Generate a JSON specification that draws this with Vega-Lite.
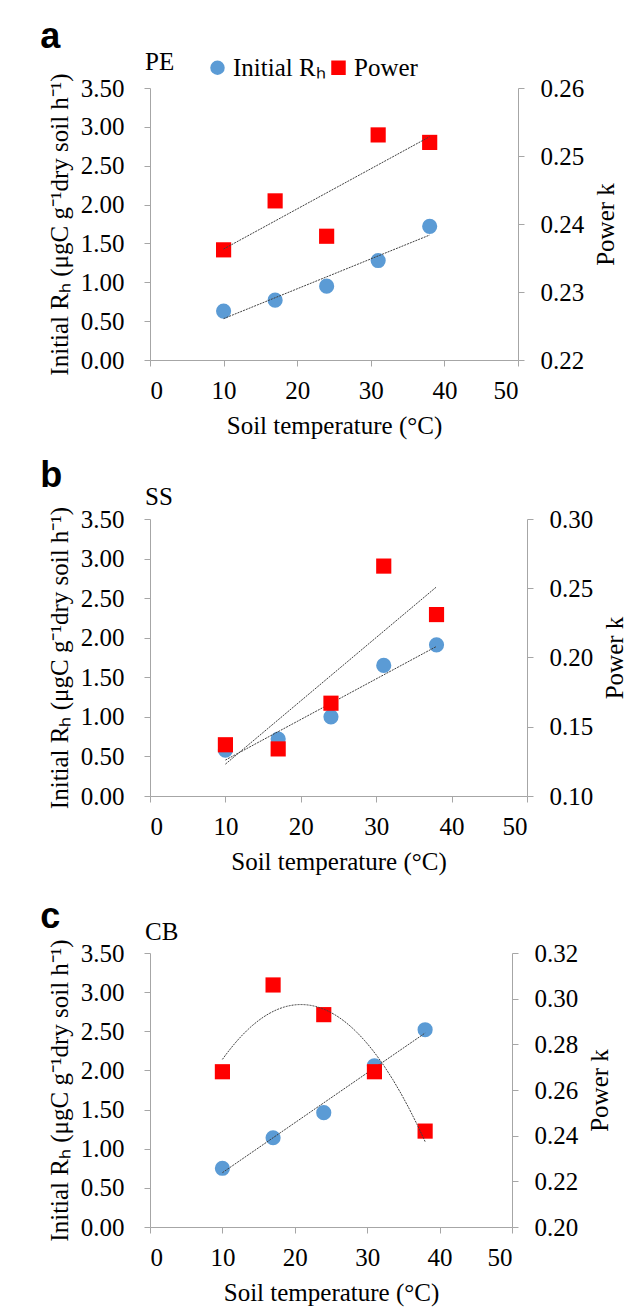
{
  "$schema": "https://vega.github.io/schema/vega-lite/v6.json",
  "padding": {"left": 40, "top": 19, "right": 5, "bottom": 2},
  "background": "white",
  "datasets": {
    "pts": [
      {"panel": "a", "temp": 10, "series": "Initial Rₕ", "value": 0.63},
      {"panel": "a", "temp": 17, "series": "Initial Rₕ", "value": 0.77},
      {"panel": "a", "temp": 24, "series": "Initial Rₕ", "value": 0.95},
      {"panel": "a", "temp": 31, "series": "Initial Rₕ", "value": 1.28},
      {"panel": "a", "temp": 38, "series": "Initial Rₕ", "value": 1.72},
      {"panel": "a", "temp": 10, "series": "Power", "value": 0.2362},
      {"panel": "a", "temp": 17, "series": "Power", "value": 0.2434},
      {"panel": "a", "temp": 24, "series": "Power", "value": 0.2382},
      {"panel": "a", "temp": 31, "series": "Power", "value": 0.2531},
      {"panel": "a", "temp": 38, "series": "Power", "value": 0.2520},
      {"panel": "b", "temp": 10, "series": "Initial Rₕ", "value": 0.58},
      {"panel": "b", "temp": 17, "series": "Initial Rₕ", "value": 0.72},
      {"panel": "b", "temp": 24, "series": "Initial Rₕ", "value": 1.00},
      {"panel": "b", "temp": 31, "series": "Initial Rₕ", "value": 1.65},
      {"panel": "b", "temp": 38, "series": "Initial Rₕ", "value": 1.91},
      {"panel": "b", "temp": 10, "series": "Power", "value": 0.137},
      {"panel": "b", "temp": 17, "series": "Power", "value": 0.134},
      {"panel": "b", "temp": 24, "series": "Power", "value": 0.167},
      {"panel": "b", "temp": 31, "series": "Power", "value": 0.266},
      {"panel": "b", "temp": 38, "series": "Power", "value": 0.231},
      {"panel": "c", "temp": 10, "series": "Initial Rₕ", "value": 0.75},
      {"panel": "c", "temp": 17, "series": "Initial Rₕ", "value": 1.14},
      {"panel": "c", "temp": 24, "series": "Initial Rₕ", "value": 1.46},
      {"panel": "c", "temp": 31, "series": "Initial Rₕ", "value": 2.06},
      {"panel": "c", "temp": 38, "series": "Initial Rₕ", "value": 2.52},
      {"panel": "c", "temp": 10, "series": "Power", "value": 0.268},
      {"panel": "c", "temp": 17, "series": "Power", "value": 0.306},
      {"panel": "c", "temp": 24, "series": "Power", "value": 0.293},
      {"panel": "c", "temp": 31, "series": "Power", "value": 0.268},
      {"panel": "c", "temp": 38, "series": "Power", "value": 0.242}
    ]
  },
  "data": {"name": "pts"},
  "spacing": 24,
  "resolve": {"scale": {"color": "independent", "shape": "independent"}},
  "vconcat": [
    {
      "spacing": 20,
      "resolve": {"scale": {"color": "independent", "shape": "independent"}},
      "vconcat": [
        {
          "title": {"text": "a", "anchor": "start", "frame": "bounds", "font": "Liberation Sans", "fontSize": 36, "fontWeight": "bold", "color": "#000", "dx": -7, "offset": -6},
          "resolve": {"scale": {"color": "independent", "shape": "independent"}},
          "vconcat": [
            {
              "width": 368,
              "height": 272,
              "title": {"text": "PE", "anchor": "start", "frame": "group", "font": "Liberation Serif", "fontSize": 25, "fontWeight": "normal", "color": "#000", "dx": -5, "offset": -20},
              "layer": [
                {
                  "encoding": {
                    "x": {"field": "temp", "type": "quantitative", "scale": {"domain": [0, 50], "nice": false}, "axis": {"values": [0, 10, 20, 30, 40, 50], "title": "Soil temperature (°C)", "labelPadding": 12, "titlePadding": 10}},
                    "y": {"field": "value", "type": "quantitative", "scale": {"domain": [0, 3.5], "nice": false}, "axis": {"values": [0, 0.5, 1, 1.5, 2, 2.5, 3, 3.5], "format": ".2f", "title": "Initial Rₕ  (μgC g⁻¹dry soil h⁻¹)", "labelPadding": 20, "titlePadding": 8}}
                  },
                  "layer": [
                    {
                      "transform": [{"filter": {"and": [{"field": "panel", "equal": "a"}, {"field": "series", "equal": "Initial Rₕ"}]}}],
                      "mark": {"type": "point", "filled": true, "opacity": 1, "size": 230},
                      "encoding": {
                        "color": {"field": "series", "type": "nominal", "scale": {"domain": ["Initial Rₕ", "Power"], "range": ["#5B9BD5", "#FF0000"]}, "legend": {"orient": "none", "direction": "horizontal", "legendX": 55, "legendY": -33, "title": null, "labelFont": "Liberation Serif", "labelFontSize": 25, "labelColor": "#000", "symbolSize": 210, "symbolOpacity": 1, "labelOffset": 3, "columnPadding": 0}},
                        "shape": {"field": "series", "type": "nominal", "scale": {"domain": ["Initial Rₕ", "Power"], "range": ["circle", "square"]}}
                      }
                    },
                    {
                      "transform": [{"filter": {"and": [{"field": "panel", "equal": "a"}, {"field": "series", "equal": "Initial Rₕ"}]}}, {"regression": "value", "on": "temp", "method": "linear"}],
                      "mark": {"type": "line", "color": "#404040", "strokeWidth": 1, "strokeDash": [2, 1]},
                      "encoding": {}
                    }
                  ]
                },
                {
                  "encoding": {
                    "x": {"field": "temp", "type": "quantitative", "scale": {"domain": [0, 50], "nice": false}},
                    "y": {"field": "value", "type": "quantitative", "scale": {"domain": [0.22, 0.26], "nice": false}, "axis": {"orient": "right", "values": [0.22, 0.23, 0.24, 0.25, 0.26], "format": ".2f", "title": "Power k", "labelPadding": 16, "titlePadding": 10, "titleAngle": 270, "titleBaseline": "top"}}
                  },
                  "layer": [
                    {
                      "transform": [{"filter": {"and": [{"field": "panel", "equal": "a"}, {"field": "series", "equal": "Power"}]}}],
                      "mark": {"type": "point", "filled": true, "opacity": 1, "size": 230},
                      "encoding": {
                        "color": {"field": "series", "type": "nominal", "scale": {"domain": ["Initial Rₕ", "Power"], "range": ["#5B9BD5", "#FF0000"]}},
                        "shape": {"field": "series", "type": "nominal", "scale": {"domain": ["Initial Rₕ", "Power"], "range": ["circle", "square"]}}
                      }
                    },
                    {
                      "transform": [{"filter": {"and": [{"field": "panel", "equal": "a"}, {"field": "series", "equal": "Power"}]}}, {"regression": "value", "on": "temp", "method": "linear"}],
                      "mark": {"type": "line", "color": "#404040", "strokeWidth": 1, "strokeDash": [2, 1]},
                      "encoding": {}
                    }
                  ]
                }
              ],
              "resolve": {"scale": {"y": "independent"}}
            }
          ]
        },
        {
          "title": {"text": "b", "anchor": "start", "frame": "bounds", "font": "Liberation Sans", "fontSize": 36, "fontWeight": "bold", "color": "#000", "dx": -7, "offset": -10},
          "vconcat": [
            {
              "width": 377,
              "height": 277,
              "title": {"text": "SS", "anchor": "start", "frame": "group", "font": "Liberation Serif", "fontSize": 25, "fontWeight": "normal", "color": "#000", "dx": -5, "offset": -7},
              "layer": [
                {
                  "encoding": {
                    "x": {"field": "temp", "type": "quantitative", "scale": {"domain": [0, 50], "nice": false}, "axis": {"values": [0, 10, 20, 30, 40, 50], "title": "Soil temperature (°C)", "labelPadding": 12, "titlePadding": 10}},
                    "y": {"field": "value", "type": "quantitative", "scale": {"domain": [0, 3.5], "nice": false}, "axis": {"values": [0, 0.5, 1, 1.5, 2, 2.5, 3, 3.5], "format": ".2f", "title": "Initial Rₕ  (μgC g⁻¹dry soil h⁻¹)", "labelPadding": 20, "titlePadding": 8}}
                  },
                  "layer": [
                    {
                      "transform": [{"filter": {"and": [{"field": "panel", "equal": "b"}, {"field": "series", "equal": "Initial Rₕ"}]}}],
                      "mark": {"type": "point", "shape": "circle", "filled": true, "opacity": 1, "size": 230, "color": "#5B9BD5"},
                      "encoding": {}
                    },
                    {
                      "transform": [{"filter": {"and": [{"field": "panel", "equal": "b"}, {"field": "series", "equal": "Initial Rₕ"}]}}, {"regression": "value", "on": "temp", "method": "linear"}],
                      "mark": {"type": "line", "color": "#404040", "strokeWidth": 1, "strokeDash": [2, 1]},
                      "encoding": {}
                    }
                  ]
                },
                {
                  "encoding": {
                    "x": {"field": "temp", "type": "quantitative", "scale": {"domain": [0, 50], "nice": false}},
                    "y": {"field": "value", "type": "quantitative", "scale": {"domain": [0.1, 0.3], "nice": false}, "axis": {"orient": "right", "values": [0.1, 0.15, 0.2, 0.25, 0.3], "format": ".2f", "title": "Power k", "labelPadding": 16, "titlePadding": 10, "titleAngle": 270, "titleBaseline": "top"}}
                  },
                  "layer": [
                    {
                      "transform": [{"filter": {"and": [{"field": "panel", "equal": "b"}, {"field": "series", "equal": "Power"}]}}],
                      "mark": {"type": "point", "shape": "square", "filled": true, "opacity": 1, "size": 230, "color": "#FF0000"},
                      "encoding": {}
                    },
                    {
                      "transform": [{"filter": {"and": [{"field": "panel", "equal": "b"}, {"field": "series", "equal": "Power"}]}}, {"regression": "value", "on": "temp", "method": "linear"}],
                      "mark": {"type": "line", "color": "#404040", "strokeWidth": 1, "strokeDash": [2, 1]},
                      "encoding": {}
                    }
                  ]
                }
              ],
              "resolve": {"scale": {"y": "independent"}}
            }
          ]
        }
      ]
    },
    {
      "title": {"text": "c", "anchor": "start", "frame": "bounds", "font": "Liberation Sans", "fontSize": 36, "fontWeight": "bold", "color": "#000", "dx": -7, "offset": -16},
      "vconcat": [
        {
          "width": 362,
          "height": 274,
          "title": {"text": "CB", "anchor": "start", "frame": "group", "font": "Liberation Serif", "fontSize": 25, "fontWeight": "normal", "color": "#000", "dx": -5, "offset": -6},
          "layer": [
            {
              "encoding": {
                "x": {"field": "temp", "type": "quantitative", "scale": {"domain": [0, 50], "nice": false}, "axis": {"values": [0, 10, 20, 30, 40, 50], "title": "Soil temperature (°C)", "labelPadding": 12, "titlePadding": 10}},
                "y": {"field": "value", "type": "quantitative", "scale": {"domain": [0, 3.5], "nice": false}, "axis": {"values": [0, 0.5, 1, 1.5, 2, 2.5, 3, 3.5], "format": ".2f", "title": "Initial Rₕ (μgC g⁻¹dry soil h⁻¹)", "labelPadding": 20, "titlePadding": 8}}
              },
              "layer": [
                {
                  "transform": [{"filter": {"and": [{"field": "panel", "equal": "c"}, {"field": "series", "equal": "Initial Rₕ"}]}}],
                  "mark": {"type": "point", "shape": "circle", "filled": true, "opacity": 1, "size": 230, "color": "#5B9BD5"},
                  "encoding": {}
                },
                {
                  "transform": [{"filter": {"and": [{"field": "panel", "equal": "c"}, {"field": "series", "equal": "Initial Rₕ"}]}}, {"regression": "value", "on": "temp", "method": "linear"}],
                  "mark": {"type": "line", "color": "#404040", "strokeWidth": 1, "strokeDash": [2, 1]},
                  "encoding": {}
                }
              ]
            },
            {
              "encoding": {
                "x": {"field": "temp", "type": "quantitative", "scale": {"domain": [0, 50], "nice": false}},
                "y": {"field": "value", "type": "quantitative", "scale": {"domain": [0.2, 0.32], "nice": false}, "axis": {"orient": "right", "values": [0.2, 0.22, 0.24, 0.26, 0.28, 0.3, 0.32], "format": ".2f", "title": "Power k", "labelPadding": 16, "titlePadding": 10, "titleAngle": 270, "titleBaseline": "top"}}
              },
              "layer": [
                {
                  "transform": [{"filter": {"and": [{"field": "panel", "equal": "c"}, {"field": "series", "equal": "Power"}]}}],
                  "mark": {"type": "point", "shape": "square", "filled": true, "opacity": 1, "size": 230, "color": "#FF0000"},
                  "encoding": {}
                },
                {
                  "transform": [{"filter": {"and": [{"field": "panel", "equal": "c"}, {"field": "series", "equal": "Power"}]}}, {"regression": "value", "on": "temp", "method": "poly", "order": 2}],
                  "mark": {"type": "line", "color": "#404040", "strokeWidth": 1, "strokeDash": [2, 1]},
                  "encoding": {}
                }
              ]
            }
          ],
          "resolve": {"scale": {"y": "independent"}}
        }
      ]
    }
  ],
  "config": {
    "view": {"stroke": null},
    "font": "Liberation Serif",
    "axis": {
      "grid": false,
      "domainColor": "#A6A6A6",
      "tickColor": "#A6A6A6",
      "tickSize": 6,
      "labelFont": "Liberation Serif",
      "labelFontSize": 25,
      "labelColor": "#000",
      "titleFont": "Liberation Serif",
      "titleFontSize": 25,
      "titleFontWeight": "normal",
      "titleColor": "#000"
    },
    "legend": {"labelFont": "Liberation Serif"}
  }
}
